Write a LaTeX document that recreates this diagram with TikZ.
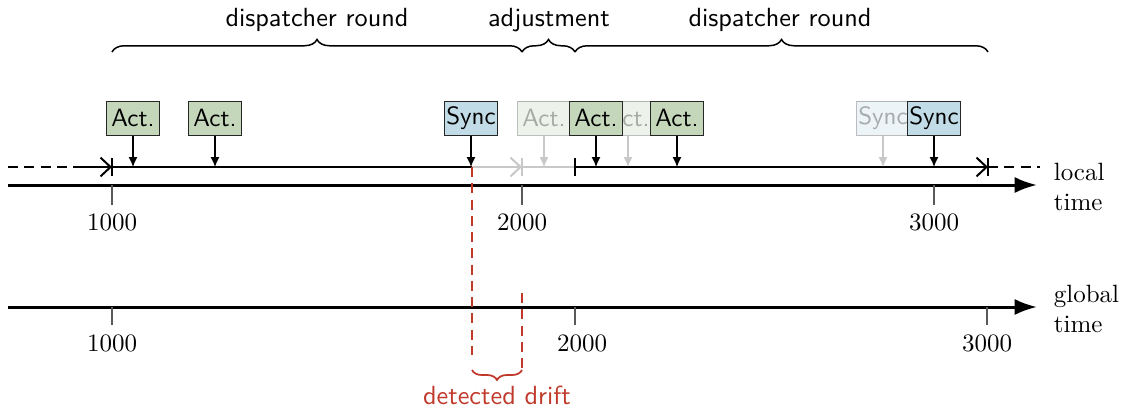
\documentclass[tikz,border=0pt]{standalone}
\usetikzlibrary{arrows.meta,decorations.pathreplacing}
\definecolor{actfill}{RGB}{196,215,186}
\definecolor{syncfill}{RGB}{193,219,231}
\definecolor{drift}{RGB}{192,57,43}
\definecolor{faint}{RGB}{200,200,200}

\begin{document}
\begin{tikzpicture}[x=0.4pt,y=-0.4pt,
  evt/.style={draw=black!85, font=\sffamily, minimum width=21pt, minimum height=13.6pt, inner sep=0.5pt, line width=0.4pt},
  act/.style={evt, fill=actfill},
  sync/.style={evt, fill=syncfill},
  ghost/.style={opacity=0.3},
  trig/.style={-{Latex[length=4pt,width=3.6pt]}, line width=0.5pt},
  axis/.style={line width=1.2pt, -{Latex[length=9pt,width=6.5pt]}},
  proc/.style={line width=0.8pt},
  barb/.style={proc, -{Straight Barb[length=4pt,width=7.5pt]}},
  endbar/.style={line width=0.8pt},
  tick/.style={line width=0.5pt, black!65},
  topbrace/.style={decorate, decoration={brace, amplitude=5pt}, line width=0.6pt},
  driftline/.style={drift, line width=0.8pt, dash pattern=on 4pt off 2.5pt},
  lbl/.style={font=\sffamily\fontsize{10.5}{12.6}\selectfont},
  axlbl/.style={anchor=west, align=left},
]
\useasboundingbox (0,0) rectangle (1123,407);

% reference heights
\coordinate (lt) at (0,167);

% local process line
\coordinate (ls) at (8,167);
\coordinate (ld) at (80,167);
\coordinate (b1) at (112,167);
\coordinate (sy) at (472,167);
\coordinate (b2) at (522,167);
\coordinate (b3) at (575,167);
\coordinate (b4) at (988,167);
\coordinate (le) at (1040,167);

\draw[proc, dashed, dash pattern=on 4pt off 2.5pt] (ls) -- (ld);
\draw[barb] (ld) -- (b1);
\draw[endbar] ([yshift=-3.6pt]b1) -- ([yshift=3.6pt]b1);
\draw[proc] (b1) -- (sy);
\draw[barb, faint] (sy) -- (b2);
\draw[endbar, faint] ([yshift=-3.6pt]b2) -- ([yshift=3.6pt]b2);
\draw[proc, faint] (b2) -- (b3);
\draw[endbar] ([yshift=-3.6pt]b3) -- ([yshift=3.6pt]b3);
\draw[barb] (b3) -- (b4);
\draw[endbar] ([yshift=-3.6pt]b4) -- ([yshift=3.6pt]b4);
\draw[proc, dashed, dash pattern=on 4pt off 2.5pt] (b4) -- (le);

% local time axis
\coordinate (la0) at (8,185);
\coordinate (la1) at (1037,185);
\draw[axis] (la0) -- (la1);
\foreach \x/\t in {112/1000, 522/2000, 934/3000}{
  \draw[tick] (\x,185) -- (\x,205);
  \node at (\x,222) {\t};
}
\node[axlbl] (ltl) at (1045,187) {local\\time};

% global time axis
\coordinate (ga0) at (8,307);
\coordinate (ga1) at (1037,307);
\draw[axis] (ga0) -- (ga1);
\foreach \x/\t in {112/1000, 575/2000, 987/3000}{
  \draw[tick] (\x,307) -- (\x,325);
}
\node at (112,343) {1000};
\node at (582,343) {2000};
\node at (987,343) {3000};
\node[axlbl] (gtl) at (1045,309) {global\\time};

% shifted (faded) events
\node[act, ghost] (ga) at (544,118) {Act.};
\node[act, ghost] (gb) at (628,118) {Act.};
\node[sync, ghost] (gs) at (883,118) {Sync};
\draw[trig, faint] (ga.south) -- (ga.south |- lt);
\draw[trig, faint] (gb.south) -- (gb.south |- lt);
\draw[trig, faint] (gs.south) -- (gs.south |- lt);

% events
\node[act] (a1) at (133,118) {Act.};
\node[act] (a2) at (215,118) {Act.};
\node[sync] (s1) at (471,118) {Sync};
\node[act] (a3) at (596,118) {Act.};
\node[act] (a4) at (677,118) {Act.};
\node[sync] (s2) at (934,118) {Sync};
\foreach \n in {a1,a2,s1,a3,a4,s2}{
  \draw[trig] (\n.south) -- (\n.south |- lt);
}

% rounds
\coordinate (r0) at (112,52);
\coordinate (r1) at (522,52);
\coordinate (r2) at (575,52);
\coordinate (r3) at (988,52);
\draw[topbrace] (r0) -- (r1);
\draw[topbrace] (r1) -- (r2);
\draw[topbrace] (r2) -- (r3);
\node[lbl] (round1) at (317,20) {dispatcher round};
\node[lbl] (adj) at (549,20) {adjustment};
\node[lbl] (round2) at (780,20) {dispatcher round};

% drift
\coordinate (d0) at (472,167);
\coordinate (d1) at (472,355);
\coordinate (d2) at (522,293);
\coordinate (d3) at (522,368);
\draw[driftline] (d0) -- (d1);
\draw[driftline] (d2) -- (d3);
\coordinate (db0) at (472,370);
\coordinate (db1) at (522,370);
\draw[drift, decorate, decoration={brace, amplitude=4pt}, line width=0.7pt] (db1) -- (db0);
\node[lbl, text=drift] (dd) at (497,395) {detected drift};
\end{tikzpicture}
\end{document}
